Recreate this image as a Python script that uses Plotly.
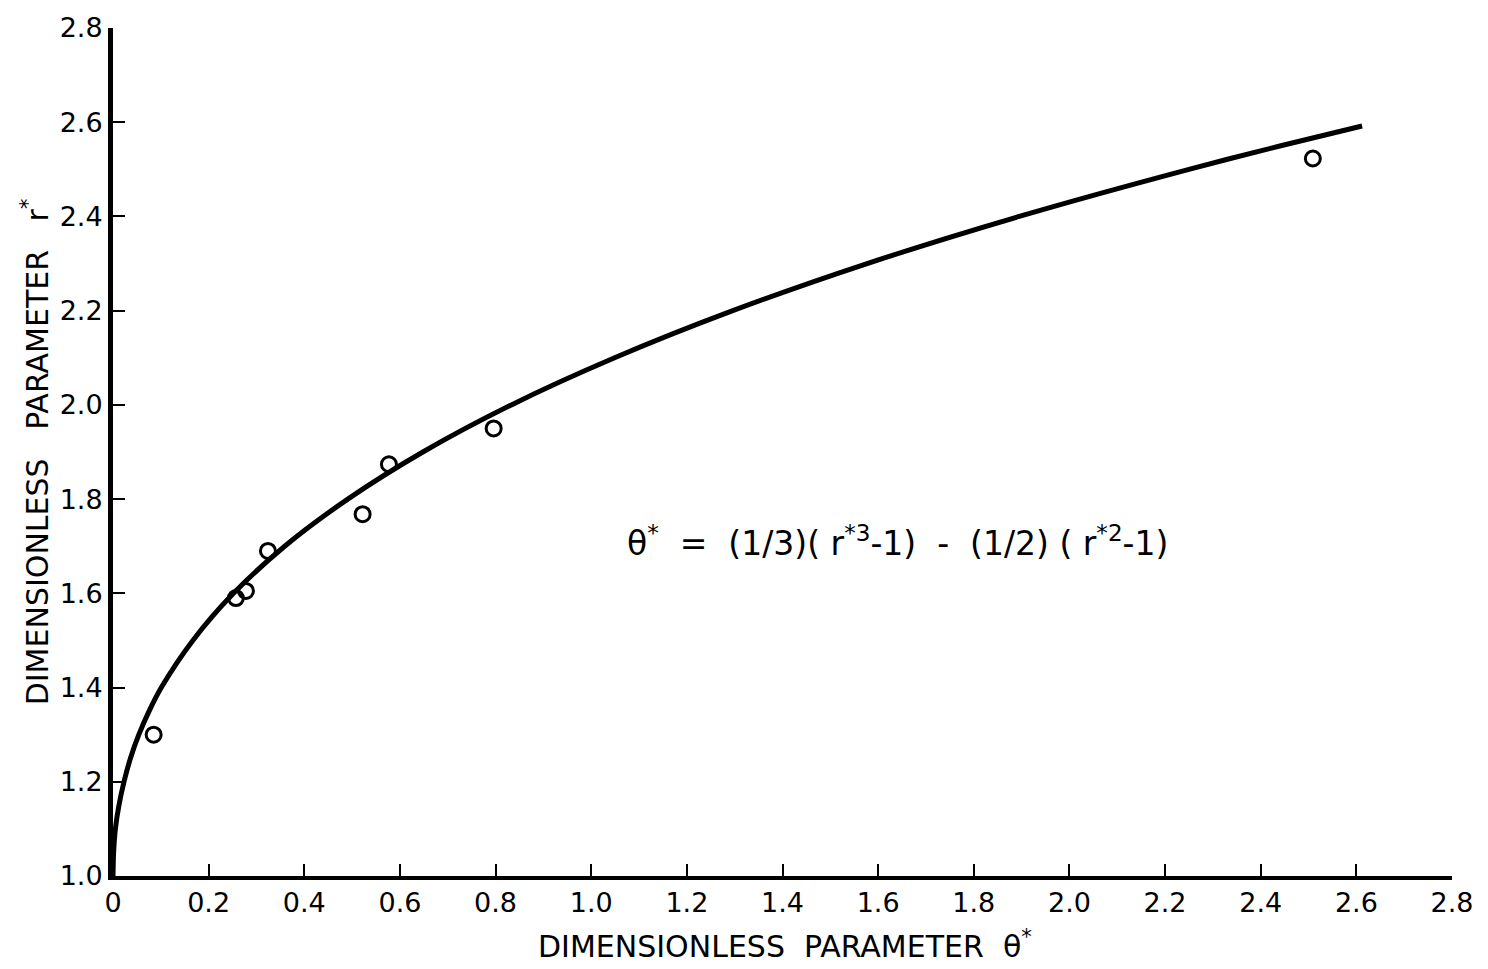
import plotly.graph_objects as go

# Theoretical curve (theta*, r*)
curve_theta = [0.0, 0.0013, 0.005, 0.0124, 0.023, 0.0365, 0.054, 0.0755, 0.101, 0.167, 0.252,
               0.359, 0.491, 0.648, 0.833, 1.049, 1.296, 1.577, 1.895, 2.25, 2.442, 2.612]
curve_r = [1.0, 1.05, 1.1, 1.15, 1.2, 1.25, 1.3, 1.35, 1.4, 1.5, 1.6,
           1.7, 1.8, 1.9, 2.0, 2.1, 2.2, 2.3, 2.4, 2.5, 2.55, 2.592]

# Experimental points
data_theta = [0.085, 0.257, 0.278, 0.324, 0.522, 0.577, 0.796, 2.509]
data_r = [1.30, 1.59, 1.605, 1.69, 1.768, 1.874, 1.95, 2.523]

tick_vals = [0, 0.2, 0.4, 0.6, 0.8, 1.0, 1.2, 1.4, 1.6, 1.8, 2.0, 2.2, 2.4, 2.6, 2.8]
x_tick_text = ["0", "0.2", "0.4", "0.6", "0.8", "1.0", "1.2", "1.4", "1.6", "1.8",
               "2.0", "2.2", "2.4", "2.6", "2.8"]
y_tick_vals = [1.0, 1.2, 1.4, 1.6, 1.8, 2.0, 2.2, 2.4, 2.6, 2.8]
y_tick_text = ["1.0", "1.2", "1.4", "1.6", "1.8", "2.0", "2.2", "2.4", "2.6", "2.8"]

FONT = "DejaVu Sans"

fig = go.Figure()
fig.add_trace(go.Scatter(x=curve_theta, y=curve_r, mode="lines",
                         line=dict(color="black", width=5, shape="spline", smoothing=0.8),
                         showlegend=False, hoverinfo="skip"))
fig.add_trace(go.Scatter(x=data_theta, y=data_r, mode="markers",
                         marker=dict(symbol="circle-open", size=15, color="black",
                                     line=dict(width=3, color="black")),
                         showlegend=False))

fig.add_annotation(x=1.64, y=1.71, xref="x", yref="y", showarrow=False,
                   text="θ<sup>*</sup>  =  (1/3)( r<sup>*3</sup>-1)  -  (1/2) ( r<sup>*2</sup>-1)",
                   font=dict(family=FONT, size=33, color="black"))

fig.add_annotation(x=0.502, y=-0.081, xref="paper", yref="paper", showarrow=False,
                   text="DIMENSIONLESS  PARAMETER  θ<sup>*</sup>", yanchor="middle",
                   xanchor="center",
                   font=dict(family=FONT, size=30, color="black"))
fig.add_annotation(x=-0.058, y=0.50, xref="paper", yref="paper", showarrow=False,
                   text="DIMENSIONLESS   PARAMETER   r<sup>*</sup>", textangle=-90,
                   xanchor="center", yanchor="middle",
                   font=dict(family=FONT, size=30, color="black"))

fig.update_xaxes(range=[0, 2.8], tickvals=tick_vals, ticktext=x_tick_text,
                 ticks="inside", ticklen=12, tickwidth=2, tickcolor="black",
                 showline=True, linecolor="black", linewidth=4,
                 showgrid=False, zeroline=False,
                 tickfont=dict(family=FONT, size=27, color="black"))
fig.update_yaxes(range=[1.0, 2.8], tickvals=y_tick_vals, ticktext=y_tick_text,
                 ticks="inside", ticklen=12, tickwidth=2, tickcolor="black",
                 showline=True, linecolor="black", linewidth=5,
                 showgrid=False, zeroline=False,
                 tickfont=dict(family=FONT, size=27, color="black"))

fig.update_layout(width=1488, height=969, plot_bgcolor="white", paper_bgcolor="white",
                  margin=dict(l=113, r=36, t=22, b=93))

fig.write_html("out.html")
